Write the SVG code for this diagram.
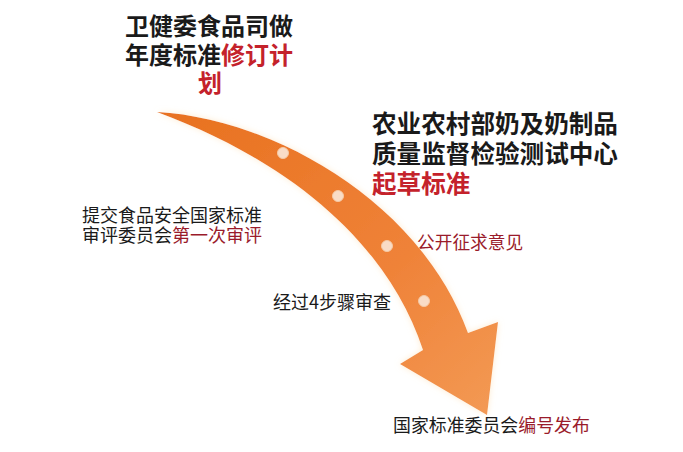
<svg xmlns="http://www.w3.org/2000/svg" width="683" height="452" viewBox="0 0 683 452">
<defs>
<style>
.h{font-family:"Noto Sans CJK SC","Noto Sans",sans-serif;font-weight:700;font-size:24px;fill:#1a1a1a}
.s{font-family:"Noto Sans CJK SC","Noto Sans",sans-serif;font-weight:400;font-size:18px;fill:#1a1a1a}
.r{fill:#c4222b}
.dr{fill:#9a1b2b}
.dot{fill:#f9dcc6;stroke:#f6c9a4;stroke-width:1}
</style>
<linearGradient id="ag" x1="0" y1="0" x2="1" y2="1">
<stop offset="0" stop-color="#e8711f"/>
<stop offset="0.6" stop-color="#ef8238"/>
<stop offset="1" stop-color="#f39a55"/>
</linearGradient>
<filter id="glow" x="-10%" y="-10%" width="120%" height="120%">
<feGaussianBlur in="SourceAlpha" stdDeviation="3"/>
<feColorMatrix type="matrix" values="0 0 0 0 0.98  0 0 0 0 0.8  0 0 0 0 0.55  0 0 0 0.8 0"/>
<feMerge><feMergeNode/><feMergeNode in="SourceGraphic"/></feMerge>
</filter>
</defs>
<rect width="683" height="452" fill="#ffffff"/>
<g id="connectors">
<path d="M157,112 C270,118 420,200 468,333 L498,322 L487,415 L400,364 L423,350 C390,250 300,165 157,112 Z" fill="url(#ag)" filter="url(#glow)"/>
<circle class="dot" cx="283" cy="153" r="5.5"/>
<circle class="dot" cx="338" cy="196" r="5.5"/>
<circle class="dot" cx="387" cy="246" r="5.5"/>
<circle class="dot" cx="424" cy="301" r="5.5"/>
</g>
<g id="node-plan">
<text class="h" x="125" y="35">卫健委食品司做</text>
<text class="h" x="125" y="64">年度标准<tspan class="r">修订计</tspan></text>
<text class="h r" x="198" y="92">划</text>
</g>
<g id="node-draft">
<text class="h" x="372" y="133" style="font-size:24.6px">农业农村部奶及奶制品</text>
<text class="h" x="372" y="163" style="font-size:24.6px">质量监督检验测试中心</text>
<text class="h r" x="372" y="193" style="font-size:24.6px">起草标准</text>
</g>
<g id="node-review">
<text class="s" x="82" y="222">提交食品安全国家标准</text>
<text class="s" x="82" y="242">审评委员会<tspan class="dr">第一次审评</tspan></text>
</g>
<g id="node-public">
<text class="s dr" x="417" y="249" style="font-size:17.7px">公开征求意见</text>
</g>
<g id="node-steps">
<text class="s" x="273" y="309">经过4步骤审查</text>
</g>
<g id="node-publish">
<text class="s" x="393" y="432" style="font-size:17.9px">国家标准委员会<tspan class="dr">编号发布</tspan></text>
</g>
</svg>
